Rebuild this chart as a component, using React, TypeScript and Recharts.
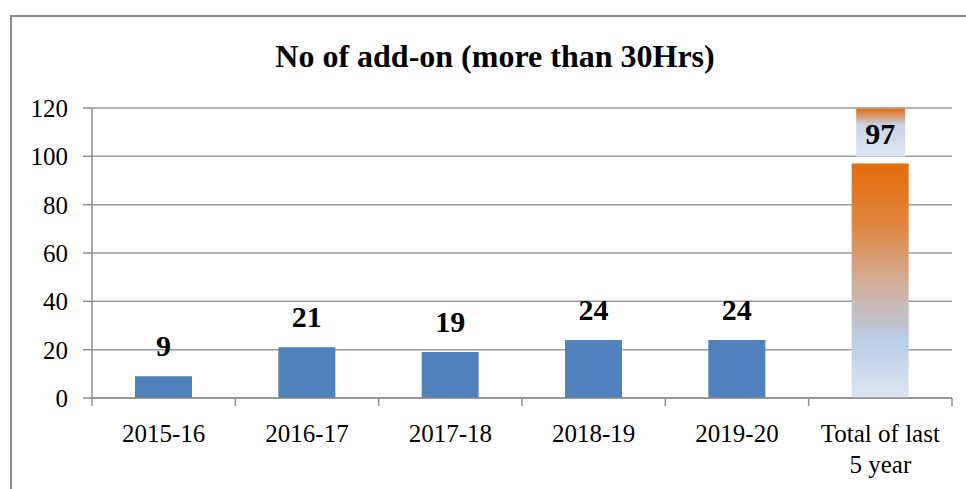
import { BarChart, Bar, XAxis, YAxis, CartesianGrid, Cell, LabelList } from 'recharts'

const categories = ['2015-16', '2016-17', '2017-18', '2018-19', '2019-20', 'Total of last\n5 year']
const addOnCounts = [9, 21, 19, 24, 24, 97]
const yTicks = [0, 20, 40, 60, 80, 100, 120]

const chartData = categories.map((name, i) => ({ name, value: addOnCounts[i] }))

const FONT = '"Liberation Serif", "Times New Roman", serif'
const BLUE = '#4F81BD'
const AXIS = '#8e8e8e'

function XTick(props: any) {
  const { x, y, payload, index, visibleTicksCount } = props
  const half = payload?.offset ?? 71.5
  const lines = String(payload.value).split('\n')
  const isLast = index === visibleTicksCount - 1
  return (
    <g>
      <line x1={x - half} y1={y} x2={x - half} y2={y + 8} stroke={AXIS} strokeWidth={1.5} />
      {isLast && <line x1={x + half} y1={y} x2={x + half} y2={y + 8} stroke={AXIS} strokeWidth={1.5} />}
      <text x={x} y={y + 44} textAnchor="middle" fill="#000" fontFamily={FONT} fontSize={25}>
        {lines.map((l, i) => (
          <tspan key={i} x={x} dy={i === 0 ? 0 : 31}>{l}</tspan>
        ))}
      </text>
    </g>
  )
}

function ValueLabel(props: any) {
  const { x, y, width, value, index } = props
  const cx = x + width / 2
  const isTotal = index === addOnCounts.length - 1
  return (
    <g>
      {isTotal && (
        <rect x={cx - 24} y={y - 55} width={49} height={48} fill="url(#labelGrad)" />
      )}
      <text x={cx} y={y - 20} textAnchor="middle" fontFamily={FONT} fontWeight="bold" fontSize={30} fill="#000">
        {value}
      </text>
    </g>
  )
}

export default function App() {
  return (
    <div style={{ position: 'absolute', left: 0, top: 0, width: 966, height: 489, overflow: 'hidden', background: '#fff' }}>
      <div
        style={{
          position: 'absolute', left: 10, top: 15, width: 1000, height: 520,
          borderLeft: '2px solid #8a8a8a', borderTop: '2px solid #8a8a8a',
        }}
      />
      <div
        style={{
          position: 'absolute', left: 0, top: 38, width: 990, textAlign: 'center',
          fontFamily: FONT, fontWeight: 'bold', fontSize: 32, lineHeight: 'normal', color: '#000',
        }}
      >
        No of add-on (more than 30Hrs)
      </div>
      <div style={{ position: 'absolute', left: 0, top: 0 }}>
        <BarChart
          width={966}
          height={489}
          data={chartData}
          margin={{ top: 108, right: 14, left: 0, bottom: 0 }}
          barCategoryGap="30%"
        >
          <defs>
            <linearGradient id="totalGrad" x1="0" y1="0" x2="0" y2="1">
              <stop offset="0%" stopColor="#E46C0A" />
              <stop offset="25%" stopColor="#E0843C" />
              <stop offset="50%" stopColor="#D3AC94" />
              <stop offset="75%" stopColor="#B9CDE5" />
              <stop offset="100%" stopColor="#DCE6F2" />
            </linearGradient>
            <linearGradient id="labelGrad" x1="0" y1="0" x2="0" y2="1">
              <stop offset="0%" stopColor="#E46C0A" />
              <stop offset="35%" stopColor="#C9D4EA" />
              <stop offset="100%" stopColor="#DCE6F2" />
            </linearGradient>
          </defs>
          <CartesianGrid vertical={false} stroke="#9a9a9a" strokeWidth={1.5} />
          <YAxis
            width={92}
            domain={[0, 120]}
            ticks={yTicks}
            interval={0}
            axisLine={{ stroke: AXIS, strokeWidth: 1.5 }}
            tickLine={{ stroke: AXIS, strokeWidth: 1.5 }}
            tickSize={9}
            tickMargin={15}
            tick={{ fill: '#000', fontFamily: FONT, fontSize: 25 }}
          />
          <XAxis
            dataKey="name"
            height={91}
            interval={0}
            axisLine={{ stroke: AXIS, strokeWidth: 1.5 }}
            tickLine={false}
            tickSize={0}
            tickMargin={0}
            tick={<XTick />}
          />
          <Bar dataKey="value" fill={BLUE} isAnimationActive={false}>
            {chartData.map((d, i) => (
              <Cell key={d.name} fill={i === chartData.length - 1 ? 'url(#totalGrad)' : BLUE} />
            ))}
            <LabelList dataKey="value" content={<ValueLabel />} />
          </Bar>
        </BarChart>
      </div>
    </div>
  )
}
